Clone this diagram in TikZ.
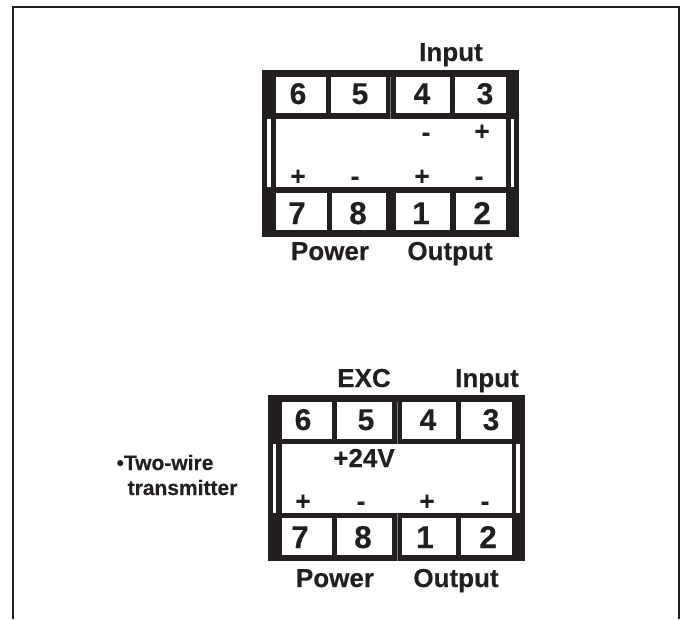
\documentclass[tikz,border=0pt]{standalone}
\usepackage{fontspec}
\setmainfont{Liberation Sans}
\newfontfamily\heavy[FakeBold=0.25]{Liberation Sans Bold}
\definecolor{ink}{HTML}{231F20}
\tikzset{
  frameline/.style={draw=ink,line width=2pt},
  housing/.style={fill=ink},
  opening/.style={fill=white},
  seam/.style={draw=white!40!ink,line width=0.6pt},
  lab/.style={anchor=base,inner sep=0,outer sep=0,text=ink,font=\heavy\fontsize{26}{26}\selectfont},
  num/.style={lab,font=\heavy\fontsize{30}{30}\selectfont},
  numlow/.style={lab,font=\heavy\fontsize{31.5}{31.5}\selectfont},
  note/.style={lab,font=\heavy\fontsize{21}{21}\selectfont}
}
\begin{document}
\begin{tikzpicture}[x=1pt,y=-1pt]
\useasboundingbox (0,0) rectangle (685,619);
\fill[white] (0,0) rectangle (685,619);
\draw[frameline] (13,619) -- (13,7) -- (679,7) -- (679,619);
% upper terminal block
\fill[housing] (262,70) rectangle (519,237);
\foreach \a/\b in {276/326,331/386,396/450,455/506}{
  \fill[opening] (\a,77) rectangle (\b,113);
}
\foreach \a/\b in {276/327,332/386,396/450,456/506}{
  \fill[opening] (\a,193) rectangle (\b,230);
}
\fill[opening] (276,119) rectangle (506,187);
\fill[opening] (267,119) rectangle (271,187);
\fill[opening] (511,119) rectangle (514,187);
\draw[seam] (390,77) -- (390,119);
\node[num] (a6) at (298,104) {6};
\node[num] (a5) at (360,104) {5};
\node[num] (a4) at (422,104) {4};
\node[num] (a3) at (485,104) {3};
\node[numlow] (a7) at (297,224) {7};
\node[numlow] (a8) at (358,224) {8};
\node[numlow] (a1) at (421,224) {1};
\node[numlow] (a2) at (482,224) {2};
\node[lab] (aIn) at (451,61) {Input};
\node[lab] (aPw) at (330,260) {Power};
\node[lab] (aOut) at (450,260) {Output};
\node[lab] (am4) at (426,141) {-};
\node[lab] (ap3) at (482,140) {+};
\node[lab] (ap7) at (298,185) {+};
\node[lab] (am8) at (355,185) {-};
\node[lab] (ap1) at (422,185) {+};
\node[lab] (am2) at (479,185) {-};
% lower terminal block
\fill[housing] (268,395) rectangle (525,561);
\foreach \a/\b in {282/332,337/392,402/456,461/512}{
  \fill[opening] (\a,402) rectangle (\b,439);
  \fill[opening] (\a,518) rectangle (\b,555);
}
\fill[opening] (282,444) rectangle (512,513);
\fill[opening] (273,444) rectangle (276,513);
\fill[opening] (516,444) rectangle (520,513);
\draw[seam] (397,402) -- (397,444);
\draw[seam] (397,513) -- (397,561);
\node[num] (b6) at (303,430) {6};
\node[num] (b5) at (366,430) {5};
\node[num] (b4) at (428,430) {4};
\node[num] (b3) at (491,430) {3};
\node[numlow] (b7) at (300,548) {7};
\node[numlow] (b8) at (363,548) {8};
\node[numlow] (b1) at (425,548) {1};
\node[numlow] (b2) at (488,548) {2};
\node[lab] (bExc) at (364,387) {EXC};
\node[lab] (bIn) at (487,387) {Input};
\node[lab] (bPw) at (335,587) {Power};
\node[lab] (bOut) at (456,587) {Output};
\node[lab] (bV) at (364,467) {+24V};
\node[lab] (bp7) at (303,510) {+};
\node[lab] (bm8) at (361,510) {-};
\node[lab] (bp1) at (427,510) {+};
\node[lab] (bm2) at (485,510) {-};
\node[note] (t1) at (165,470) {•Two-wire};
\node[note] (t2) at (182.5,495) {transmitter};
\end{tikzpicture}
\end{document}
